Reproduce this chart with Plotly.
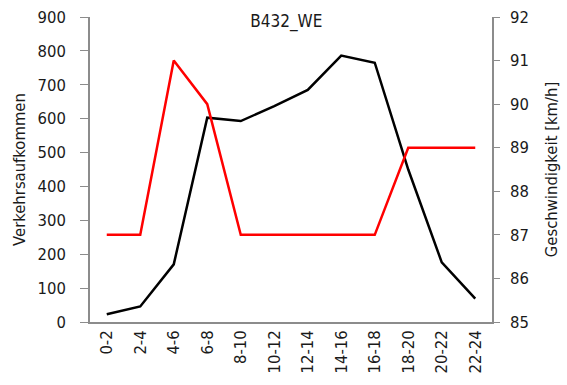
import plotly.graph_objects as go

# Two-hour intervals over the day
intervals = ["0-2", "2-4", "4-6", "6-8", "8-10", "10-12", "12-14",
             "14-16", "16-18", "18-20", "20-22", "22-24"]
# Traffic volume (left axis)
volume = [23, 46, 170, 603, 593, 637, 685, 786, 765, 450, 176, 69]
# Speed in km/h (right axis)
speed = [87, 87, 91, 90, 87, 87, 87, 87, 87, 89, 89, 89]

font_family = "Liberation Sans Narrow, Arial Narrow, DejaVu Sans Condensed, sans-serif"
axis_color = "#8c8c8c"
text_color = "#1a1a1a"
fs = 16.5

fig = go.Figure()
fig.add_trace(go.Scatter(x=intervals, y=volume, mode="lines",
                         line=dict(color="black", width=2.5),
                         name="Verkehrsaufkommen"))
fig.add_trace(go.Scatter(x=intervals, y=speed, mode="lines",
                         line=dict(color="#ff0000", width=2.5),
                         name="Geschwindigkeit", yaxis="y2"))

fig.update_layout(
    width=567, height=385,
    margin=dict(l=90, r=75, t=17, b=63),
    paper_bgcolor="white", plot_bgcolor="white",
    showlegend=False,
    font=dict(family=font_family, size=fs, color=text_color),
    title=dict(text="B432_WE", x=0.505, xanchor="center", y=0.945, yanchor="middle",
               font=dict(size=17, family=font_family, color=text_color)),
    xaxis=dict(type="category", range=[-0.5, 11.5], tickangle=-90,
               showline=True, linecolor=axis_color, linewidth=1.5,
               ticks="", showgrid=False, zeroline=False, automargin=False,
               tickfont=dict(size=fs)),
    yaxis=dict(range=[0, 900], dtick=100, showline=True, linecolor=axis_color,
               linewidth=1.5, ticks="outside", ticklen=8, tickcolor=axis_color,
               ticklabelstandoff=11, automargin=False,
               showgrid=False, zeroline=False,
               title=dict(text="Verkehrsaufkommen", font=dict(size=fs), standoff=8)),
    yaxis2=dict(range=[85, 92], dtick=1, overlaying="y", side="right",
                showline=True, linecolor=axis_color, linewidth=1.5,
                ticks="outside", ticklen=6, tickcolor=axis_color,
                ticklabelstandoff=7, automargin=False,
                showgrid=False, zeroline=False,
                title=dict(text="Geschwindigkeit [km/h]", font=dict(size=fs), standoff=18)),
)

fig.write_html("out.html")
